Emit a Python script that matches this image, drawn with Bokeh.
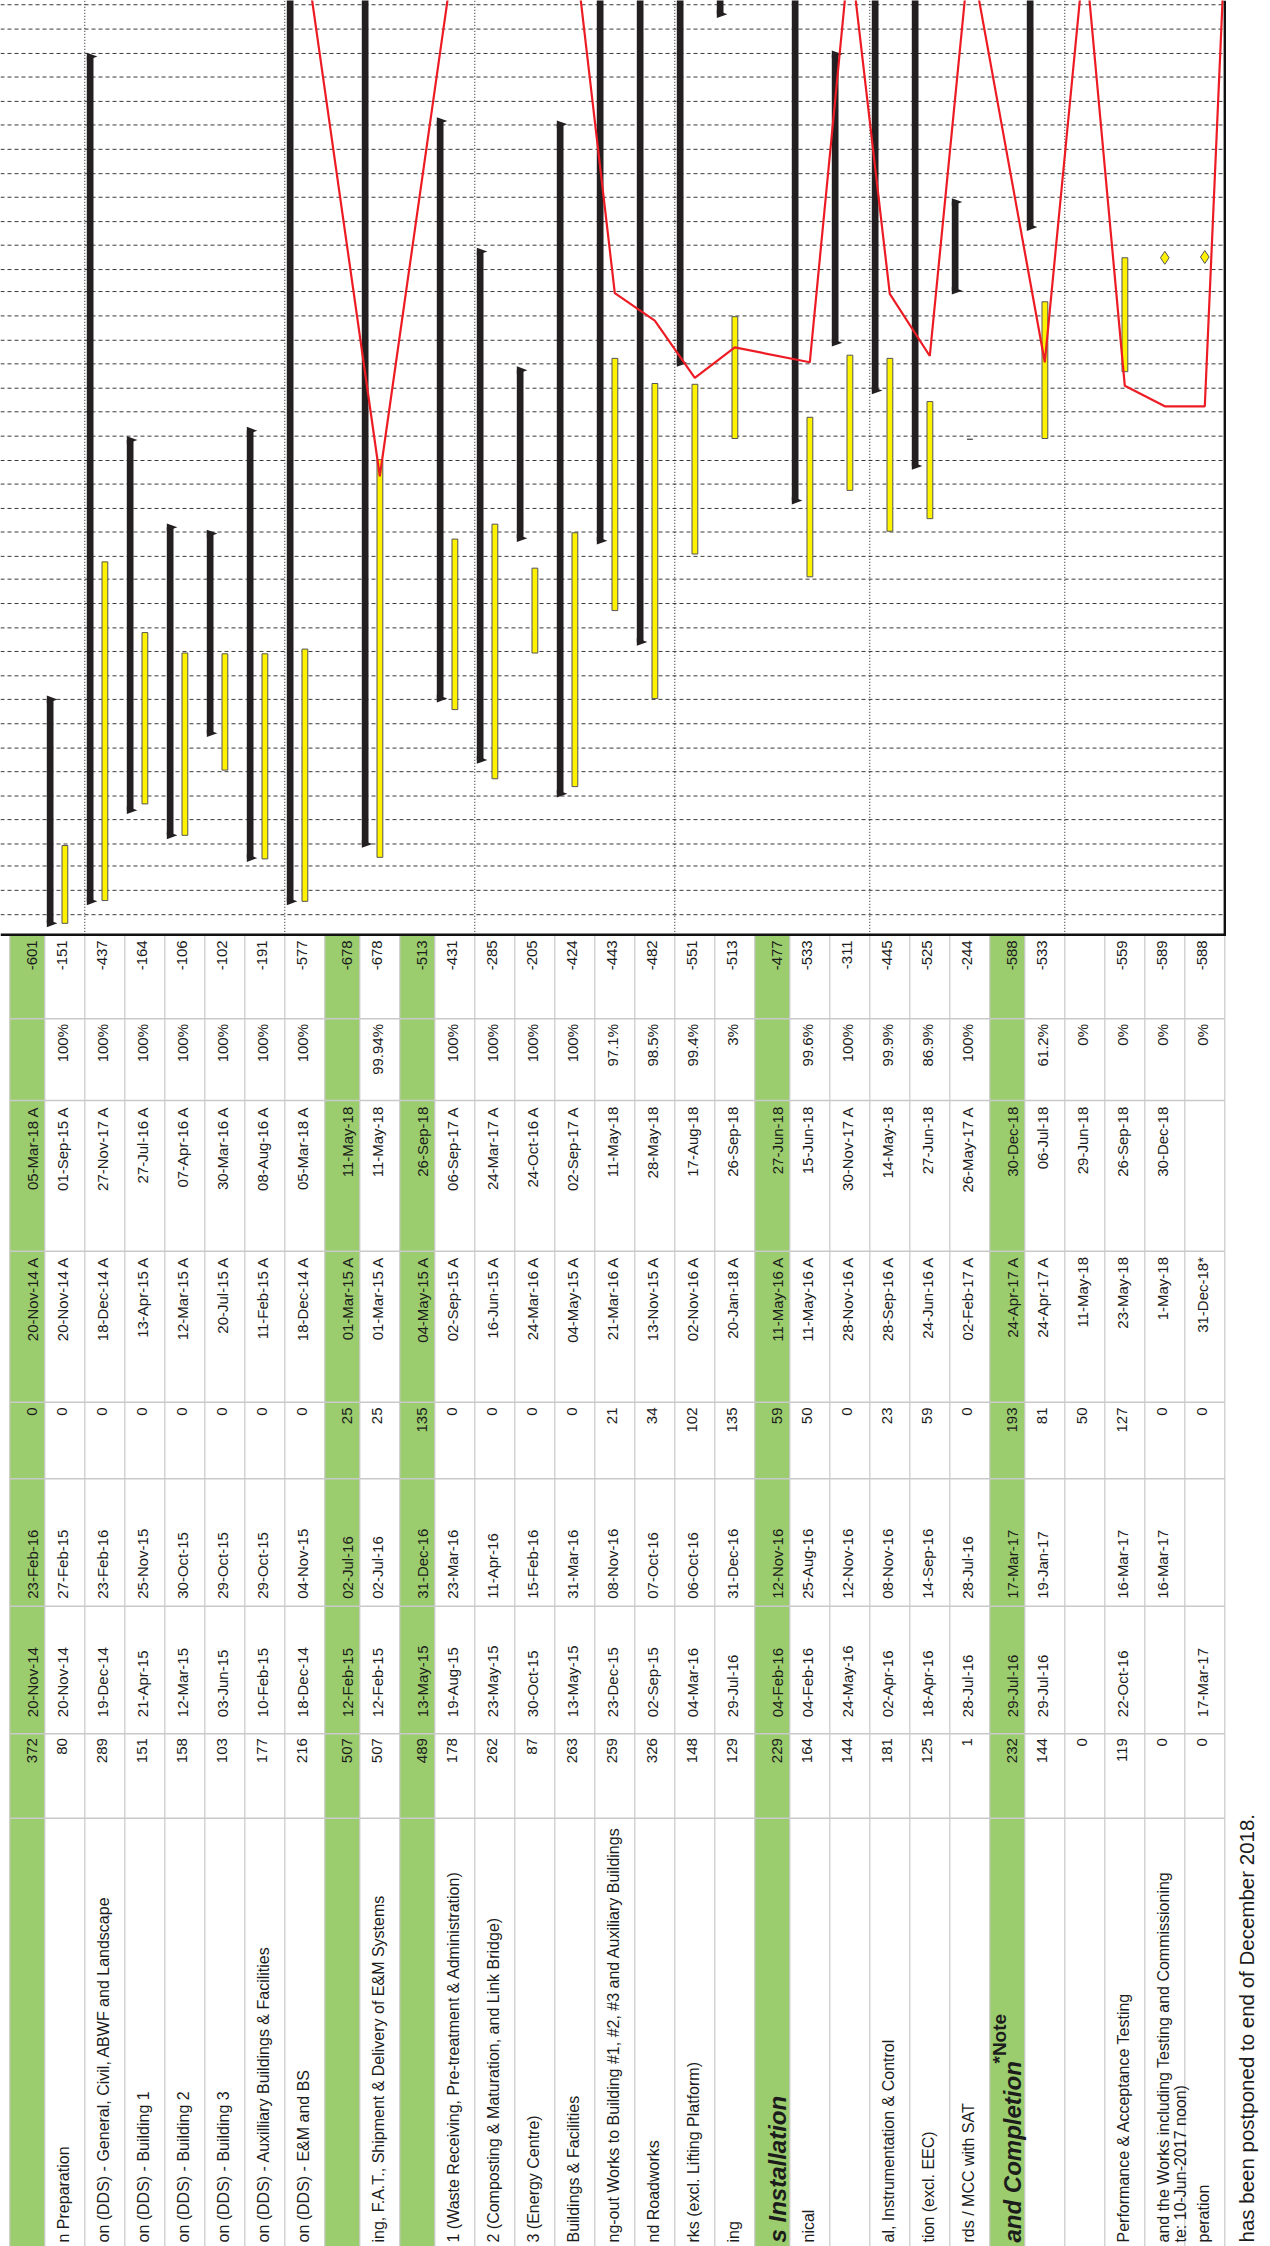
import math
from datetime import datetime, timedelta
import pandas as pd
from bokeh.plotting import figure
from bokeh.models import Range1d
from bokeh.core.properties import value
from bokeh.embed import file_html
from bokeh.resources import INLINE

# ---------------- data (one entry per activity row, top of schedule first) ----------------
ROW_KIND = ["G", "W", "W", "W", "W", "W", "W", "W", "G", "W", "G", "W", "W", "W", "W", "W",
            "W", "W", "W", "G", "W", "W", "W", "W", "W", "G", "W", "W", "W", "W", "W"]
NAMES = ["", "n Preparation",
         "on (DDS) - General, Civil, ABWF and Landscape",
         "on (DDS) - Building 1", "on (DDS) - Building 2", "on (DDS) - Building 3",
         "on (DDS) - Auxilliary Buildings & Facilities", "on (DDS) - E&M and BS",
         "", "ing, F.A.T., Shipment & Delivery of E&M Systems",
         "", "1 (Waste Receiving, Pre-treatment & Administration)",
         "2 (Composting & Maturation, and Link Bridge)", "3 (Energy Centre)",
         "Buildings & Facilities",
         "ng-out Works to Building #1, #2, #3 and Auxiliary Buildings",
         "nd Roadworks", "rks (excl. Lifting Platform)", "ing",
         "s Installation", "nical", "", "al, Instrumentation & Control",
         "tion (excl. EEC)", "rds / MCC  with SAT",
         "and Completion", "", "", "Performance & Acceptance Testing",
         "and the Works including Testing and Commissioning", "peration"]
NAMES_LINE2 = [""] * 29 + ["te: 10-Jun-2017 noon)", ""]
DURATION = ["372", "80", "289", "151", "158", "103", "177", "216", "507", "507", "489", "178",
            "262", "87", "263", "259", "326", "148", "129", "229", "164", "144", "181", "125",
            "1", "232", "144", "0", "119", "0", "0"]
PLANNED_START = ["20-Nov-14", "20-Nov-14", "19-Dec-14", "21-Apr-15", "12-Mar-15", "03-Jun-15",
                 "10-Feb-15", "18-Dec-14", "12-Feb-15", "12-Feb-15", "13-May-15", "19-Aug-15",
                 "23-May-15", "30-Oct-15", "13-May-15", "23-Dec-15", "02-Sep-15", "04-Mar-16",
                 "29-Jul-16", "04-Feb-16", "04-Feb-16", "24-May-16", "02-Apr-16", "18-Apr-16",
                 "28-Jul-16", "29-Jul-16", "29-Jul-16", "", "22-Oct-16", "", "17-Mar-17"]
PLANNED_FINISH = ["23-Feb-16", "27-Feb-15", "23-Feb-16", "25-Nov-15", "30-Oct-15", "29-Oct-15",
                  "29-Oct-15", "04-Nov-15", "02-Jul-16", "02-Jul-16", "31-Dec-16", "23-Mar-16",
                  "11-Apr-16", "15-Feb-16", "31-Mar-16", "08-Nov-16", "07-Oct-16", "06-Oct-16",
                  "31-Dec-16", "12-Nov-16", "25-Aug-16", "12-Nov-16", "08-Nov-16", "14-Sep-16",
                  "28-Jul-16", "17-Mar-17", "19-Jan-17", "", "16-Mar-17", "16-Mar-17", ""]
TOTAL_FLOAT = ["0", "0", "0", "0", "0", "0", "0", "0", "25", "25", "135", "0", "0", "0", "0",
               "21", "34", "102", "135", "59", "50", "0", "23", "59", "0", "193", "81", "50",
               "127", "0", "0"]
ACTUAL_START = ["20-Nov-14 A", "20-Nov-14 A", "18-Dec-14 A", "13-Apr-15 A", "12-Mar-15 A",
                "20-Jul-15 A", "11-Feb-15 A", "18-Dec-14 A", "01-Mar-15 A", "01-Mar-15 A",
                "04-May-15 A", "02-Sep-15 A", "16-Jun-15 A", "24-Mar-16 A", "04-May-15 A",
                "21-Mar-16 A", "13-Nov-15 A", "02-Nov-16 A", "20-Jan-18 A", "11-May-16 A",
                "11-May-16 A", "28-Nov-16 A", "28-Sep-16 A", "24-Jun-16 A", "02-Feb-17 A",
                "24-Apr-17 A", "24-Apr-17 A", "11-May-18", "23-May-18", "1-May-18", "31-Dec-18*"]
ACTUAL_FINISH = ["05-Mar-18 A", "01-Sep-15 A", "27-Nov-17 A", "27-Jul-16 A", "07-Apr-16 A",
                 "30-Mar-16 A", "08-Aug-16 A", "05-Mar-18 A", "11-May-18", "11-May-18",
                 "26-Sep-18", "06-Sep-17 A", "24-Mar-17 A", "24-Oct-16 A", "02-Sep-17 A",
                 "11-May-18", "28-May-18", "17-Aug-18", "26-Sep-18", "27-Jun-18", "15-Jun-18",
                 "30-Nov-17 A", "14-May-18", "27-Jun-18", "26-May-17 A", "30-Dec-18",
                 "06-Jul-18", "29-Jun-18", "26-Sep-18", "30-Dec-18", ""]
PCT_COMPLETE = ["", "100%", "100%", "100%", "100%", "100%", "100%", "100%", "", "99.94%", "",
                "100%", "100%", "100%", "100%", "97.1%", "98.5%", "99.4%", "3%", "", "99.6%",
                "100%", "99.9%", "86.9%", "100%", "", "61.2%", "0%", "0%", "0%", "0%"]
VARIANCE = ["-601", "-151", "-437", "-164", "-106", "-102", "-191", "-577", "-678", "-678",
            "-513", "-431", "-285", "-205", "-424", "-443", "-482", "-551", "-513", "-477",
            "-533", "-311", "-445", "-525", "-244", "-588", "-533", "", "-559", "-589", "-588"]
DATA_DATE = "13-Apr-18"
# progress-line point of each row ("DD" = data date, "" = summary row, no point)
PROGRESS_POINT = ["", "DD", "DD", "DD", "DD", "DD", "DD", "DD", "", "11-Jun-16", "",
                  "DD", "DD", "DD", "DD", "30-Jan-17", "26-Dec-16", "14-Oct-16", "22-Nov-16", "",
                  "03-Nov-16", "DD", "29-Jan-17", "11-Nov-16", "DD", "",
                  "03-Nov-16", "DD", "04-Oct-16", "08-Sep-16", "08-Sep-16"]
MONTH_LINES = pd.date_range("2014-12-01", "2018-02-01", freq="MS")
NOTE_SUPERSCRIPT = "*Note"
NOTE_TEXT = "has been postponed to end of December 2018."

# ---------------- layout constants (page pixels) ----------------
FIG_W, FIG_H = 1270, 2246
TABLE_X0 = 9.3
WHITE_W, GREEN_W = 40.0, 35.0
CHART_BOTTOM = 934.3
CHART_RIGHT = TABLE_X0 + WHITE_W * ROW_KIND.count("W") + GREEN_W * ROW_KIND.count("G")
PAGE_BOTTOM = FIG_H
PX_PER_DAY = 0.7858
ANCHOR_DATE, ANCHOR_Y = datetime(2018, 1, 1), 28.6
BAND_EDGES = [1018.3, 1100.0, 1250.7, 1401.7, 1478.3, 1605.7, 1733.3, 1817.7]

FONT = value("Liberation Sans")
TXT = "#1c1c1c"
GREEN = "#9bcc6e"
GRID_GREY = "#c9c9c9"


def d(s):
    s = s.replace(" A", "").replace("*", "").strip()
    return pd.to_datetime(s, format="%d-%b-%y")


def date_at(y):
    return ANCHOR_DATE + timedelta(days=(ANCHOR_Y - y) / PX_PER_DAY)


row_start, row_w = [], []
x = TABLE_X0
for k in ROW_KIND:
    w = GREEN_W if k == "G" else WHITE_W
    row_start.append(x)
    row_w.append(w)
    x += w

p = figure(width=FIG_W, height=FIG_H, output_backend="svg", toolbar_location=None,
           x_range=Range1d(0, FIG_W), y_range=Range1d(FIG_H, 0),
           x_axis_location=None, y_axis_location=None, min_border=0)
p.extra_y_ranges = {"time": Range1d(start=date_at(FIG_H), end=date_at(0))}
p.xgrid.visible = False
p.ygrid.visible = False
p.outline_line_color = None
p.background_fill_color = "white"
p.border_fill_color = "white"

# ---------------- table background ----------------
gi = [i for i, k in enumerate(ROW_KIND) if k == "G"]
p.quad(left=[row_start[i] for i in gi], right=[row_start[i] + row_w[i] for i in gi],
       top=[CHART_BOTTOM] * len(gi), bottom=[PAGE_BOTTOM] * len(gi),
       fill_color=GREEN, line_color=None)
bx = row_start + [CHART_RIGHT]
p.segment(x0=bx, x1=bx, y0=[CHART_BOTTOM] * len(bx), y1=[PAGE_BOTTOM] * len(bx),
          line_color=GRID_GREY, line_width=1.2)
p.segment(x0=[TABLE_X0] * len(BAND_EDGES), x1=[CHART_RIGHT] * len(BAND_EDGES),
          y0=BAND_EDGES, y1=BAND_EDGES, line_color=GRID_GREY, line_width=1.6)

# ---------------- chart grid ----------------
p.segment(x0=[0] * len(MONTH_LINES), x1=[CHART_RIGHT] * len(MONTH_LINES),
          y0=MONTH_LINES, y1=MONTH_LINES, y_range_name="time",
          line_color="#3a3a3a", line_width=1, line_dash="4 3")
sight = [row_start[i] + row_w[i] for i in range(1, len(ROW_KIND), 5)]
p.segment(x0=sight, x1=sight, y0=[CHART_BOTTOM] * len(sight), y1=[0] * len(sight),
          line_color="#111111", line_width=1, line_dash="1 2")

# ---------------- bars ----------------
def days_px(px):
    return timedelta(days=px / PX_PER_DAY)


bl, br, bb, bt, fx, fy = [], [], [], [], [], []
yl, yr, yb, yt = [], [], [], []
mx, my = [], []
for i, k in enumerate(ROW_KIND):
    if k == "G":
        continue
    rs = row_start[i]
    if ACTUAL_START[i] and ACTUAL_FINISH[i]:
        s, f = d(ACTUAL_START[i]), d(ACTUAL_FINISH[i])
        bl.append(rs + 2.0); br.append(rs + 8.7); bb.append(s); bt.append(f)
        for e in (s, f):
            fx.append([rs + 2.0, rs + 2.0, rs + 12.6])
            fy.append([e - days_px(3.8), e + days_px(3.8), e])
    if PLANNED_START[i] and PLANNED_FINISH[i]:
        yl.append(rs + 17.2); yr.append(rs + 23.0)
        yb.append(d(PLANNED_START[i])); yt.append(d(PLANNED_FINISH[i]))
    elif PLANNED_START[i] or PLANNED_FINISH[i]:
        mx.append(rs + 20.0); my.append(d(PLANNED_START[i] or PLANNED_FINISH[i]))

p.quad(left=bl, right=br, bottom=bb, top=bt, y_range_name="time",
       fill_color="#231f20", line_color=None)
p.patches(xs=fx, ys=fy, y_range_name="time", fill_color="#231f20", line_color=None)
p.quad(left=yl, right=yr, bottom=yb, top=yt, y_range_name="time",
       fill_color="#fff200", line_color="#555555", line_width=1)
p.scatter(x=mx, y=my, y_range_name="time", marker="diamond", size=13,
          fill_color="#fff200", line_color="#555555", line_width=1)

# ---------------- progress line ----------------
lx, ly = [TABLE_X0], [d(DATA_DATE)]
for i, v in enumerate(PROGRESS_POINT):
    if not v:
        continue
    lx.append(row_start[i] + row_w[i] / 2)
    ly.append(d(DATA_DATE) if v == "DD" else d(v))
lx.append(CHART_RIGHT); ly.append(d(DATA_DATE))
p.line(lx, ly, y_range_name="time", line_color="#ed1c24", line_width=2.2)

# chart borders
p.segment(x0=[0, CHART_RIGHT], x1=[CHART_RIGHT + 1.2, CHART_RIGHT],
          y0=[CHART_BOTTOM, 0], y1=[CHART_BOTTOM, CHART_BOTTOM],
          line_color="#111111", line_width=2.4)

# ---------------- table texts ----------------
def band_text(values, anchor_y, align, size="15px", style="normal", base_w=17.6, base_g=22.6):
    xs, ys, ts = [], [], []
    for i, t in enumerate(values):
        if not t:
            continue
        xs.append(row_start[i] + (base_g if ROW_KIND[i] == "G" else base_w))
        ys.append(anchor_y)
        ts.append(t)
    p.text(x=xs, y=ys, text=ts, angle=math.pi / 2, text_align=align,
           text_baseline="alphabetic", text_font=FONT, text_font_size=size,
           text_font_style=style, text_color=TXT)


band_text(VARIANCE, 939.8, "right")
band_text(PCT_COMPLETE, 1023.5, "right")
band_text(ACTUAL_FINISH, 1106.2, "right")
band_text(ACTUAL_START, 1256.5, "right")
band_text(TOTAL_FLOAT, 1407.0, "right")
band_text(PLANNED_FINISH, 1598.3, "left")
band_text(PLANNED_START, 1716.7, "left")
band_text(DURATION, 1737.6, "right")
band_text([n if k == "W" else "" for n, k in zip(NAMES, ROW_KIND)], 2242, "left",
          size="16px", base_w=19.0)
band_text(NAMES_LINE2, 2242, "left", size="16px", base_w=36.0)
band_text([n if k == "G" else "" for n, k in zip(NAMES, ROW_KIND)], 2242, "left",
          size="24px", style="bold italic", base_g=23.0)
g5 = [i for i in gi if NAMES[i] == "and Completion"][0]
p.text(x=[row_start[g5] + 9.8], y=[2063], text=[NOTE_SUPERSCRIPT], angle=math.pi / 2,
       text_align="left", text_baseline="alphabetic", text_font=FONT,
       text_font_size="19px", text_font_style="bold", text_color=TXT)
p.text(x=[CHART_RIGHT + 21.5], y=[2242], text=[NOTE_TEXT], angle=math.pi / 2,
       text_align="left", text_baseline="alphabetic", text_font=FONT,
       text_font_size="20.5px", text_color=TXT)

open("out.html", "w").write(file_html(p, INLINE))
